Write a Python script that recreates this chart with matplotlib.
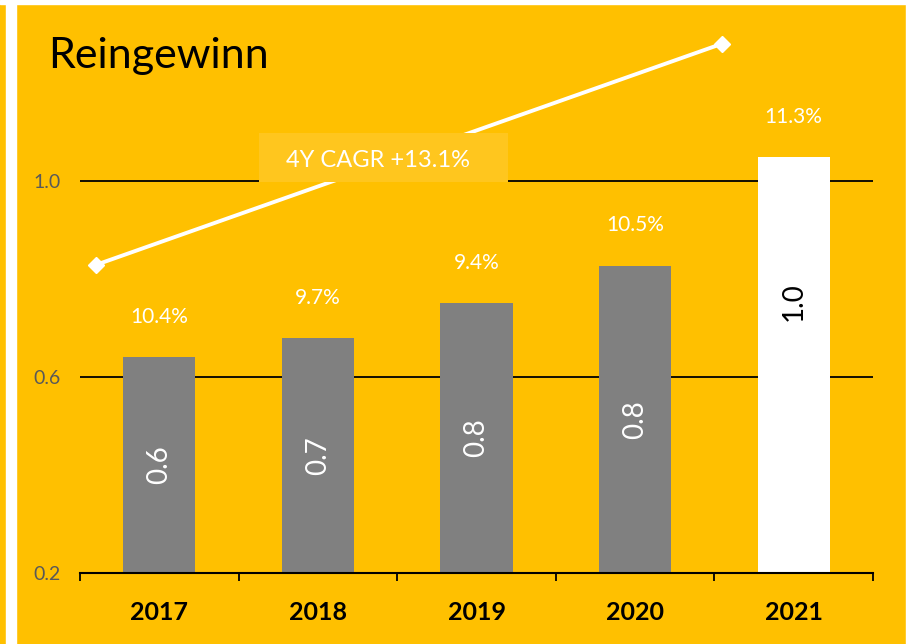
import matplotlib
matplotlib.use("Agg")
import matplotlib.pyplot as plt
from matplotlib.patches import Rectangle

plt.rcParams['font.family'] = ['Lato', 'DejaVu Sans']

# Daten
years = ['2017', '2018', '2019', '2020', '2021']
gewinn = [0.641, 0.680, 0.751, 0.827, 1.049]
gewinn_labels = ['0.6', '0.7', '0.8', '0.8', '1.0']
marge = ['10.4%', '9.7%', '9.4%', '10.5%', '11.3%']
y_ticks = [0.2, 0.6, 1.0]
cagr_text = '4Y CAGR +13.1%'

gold = '#FFC000'
grau = '#808080'

W, H = 908, 644
fig = plt.figure(figsize=(W / 100, H / 100), dpi=100)
fig.patch.set_facecolor(gold)

# weisse Raender (links Streifen, oben, rechts)
fig.patches.append(Rectangle((6 / W, 0), 10 / W, 1, transform=fig.transFigure, color='white', zorder=0))
fig.patches.append(Rectangle((0, 1 - 4 / H), 1, 4 / H, transform=fig.transFigure, color='white', zorder=0))
fig.patches.append(Rectangle((1 - 2 / W, 0), 2 / W, 1, transform=fig.transFigure, color='white', zorder=0))

ax = fig.add_axes([80 / W, 1 - 573 / H, 793 / W, 539 / H])
ax.set_facecolor('none')
ax.set_xlim(-0.5, len(years) - 0.5)
ax.set_ylim(0.2, 1.3)

x = list(range(len(years)))
farben = [grau] * (len(years) - 1) + ['white']
ax.bar(x, [g - 0.2 for g in gewinn], bottom=0.2, width=0.455, color=farben, zorder=3)

# Werte in den Balken
for i, (g, lab) in enumerate(zip(gewinn, gewinn_labels)):
    if i == len(years) - 1:
        ax.text(i, g - 0.296, lab, rotation=90, ha='center', va='center',
                color='black', fontsize=20, zorder=5)
    else:
        ax.text(i, (g + 0.2) / 2, lab, rotation=90, ha='center', va='center',
                color='white', fontsize=20, zorder=5)

# Margen ueber den Balken
for i, (g, m) in enumerate(zip(gewinn, marge)):
    ax.annotate(m, (i, g), xytext=(0, 29), textcoords='offset points',
                ha='center', va='center', color='white', fontsize=15, zorder=5)

# Gitter
for t in y_ticks[1:]:
    ax.axhline(t, color='black', lw=1.3, zorder=1)

ax.set_yticks(y_ticks)
ax.set_yticklabels([f'{t:.1f}' for t in y_ticks], color='#595959', fontsize=14)
ax.tick_params(axis='y', length=0, pad=14)

ax.set_xticks(x)
ax.set_xticklabels(years, fontsize=18, fontweight='bold')
ax.set_xticks([i - 0.5 for i in range(len(years) + 1)], minor=True)
ax.tick_params(axis='x', which='major', length=0, pad=20)
ax.tick_params(axis='x', which='minor', length=6, width=1.3, direction='out', color='black')

for s in ['left', 'right', 'top']:
    ax.spines[s].set_visible(False)
ax.spines['bottom'].set_linewidth(1.5)
ax.spines['bottom'].set_zorder(4)

# CAGR Linie
ax.plot([-0.398, 3.547], [0.829, 1.28], color='white', lw=2.8, marker='D',
        markersize=8, clip_on=False, zorder=6)

# CAGR Kasten
ax.add_patch(Rectangle((0.629, 0.998), 1.569, 0.1, facecolor='#FFC61E',
                       edgecolor='none', zorder=7))
ax.text(1.376, 1.041, cagr_text, ha='center', va='center', color='white',
        fontsize=17, zorder=8)

fig.text(48 / W, 1 - 68 / H, 'Reingewinn', fontsize=31, color='black',
         ha='left', va='baseline')

fig.savefig('out.png', dpi=100, facecolor=gold)
